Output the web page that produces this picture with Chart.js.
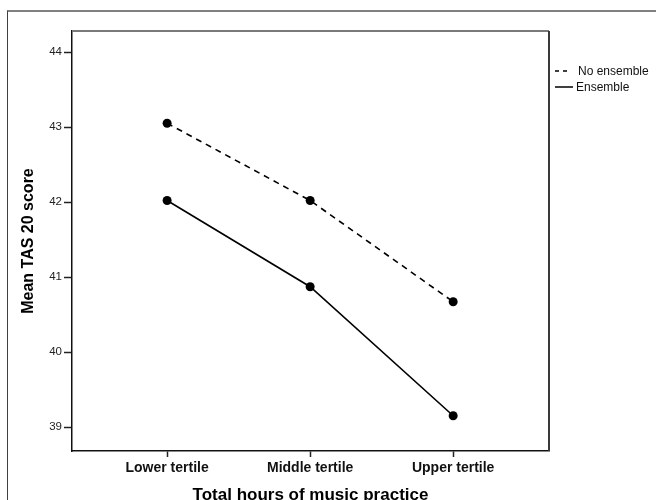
<!DOCTYPE html>
<html>
<head>
<meta charset="utf-8">
<script src="https://cdn.jsdelivr.net/npm/chart.js@4/dist/chart.umd.min.js"></script>
<style>
html, body { margin: 0; padding: 0; background: #fff; }
#wrap { position: relative; width: 656px; height: 500px; overflow: hidden; }
#frame { position: absolute; left: 7px; top: 10px; width: 700px; height: 600px;
	border-top: 2px solid #808080; border-left: 1px solid #404040; pointer-events: none; }
</style>
</head>
<body>
<div id="wrap">
	<canvas id="tas-chart" width="656" height="500"></canvas>
	<div id="frame"></div>
</div>
<script>
const categories = ['Lower tertile', 'Middle tertile', 'Upper tertile'];
const noEnsemble = [43.05, 42.02, 40.67];
const ensemble = [42.02, 40.87, 39.15];
const yTicks = [39, 40, 41, 42, 43, 44];

function toPoints(values) {
	return values.map((v, i) => ({ x: i, y: v }));
}

// box round the plot area, top and right edges
const plotBox = {
	id: 'plotBox',
	afterDraw(chart) {
		const { ctx, chartArea: a } = chart;
		ctx.save();
		ctx.lineWidth = 2;
		ctx.strokeStyle = '#7a7a7a';
		ctx.beginPath();
		ctx.moveTo(a.left, a.top);
		ctx.lineTo(a.right, a.top);
		ctx.stroke();
		ctx.strokeStyle = '#3a3a3a';
		ctx.beginPath();
		ctx.moveTo(a.right, a.top);
		ctx.lineTo(a.right, a.bottom);
		ctx.stroke();
		ctx.restore();
	}
};

// legend in the old SPSS style: line sample then label
const lineLegend = {
	id: 'lineLegend',
	afterDraw(chart) {
		const ctx = chart.ctx;
		const x = chart.chartArea.right + 6;
		ctx.save();
		ctx.font = '12px Arial, "Liberation Sans", sans-serif';
		ctx.fillStyle = '#111';
		ctx.textBaseline = 'middle';
		chart.data.datasets.forEach((ds, i) => {
			const y = 71 + i * 16;
			const dashed = !!ds.borderDash;
			ctx.strokeStyle = '#000';
			ctx.lineWidth = 1.5;
			ctx.setLineDash(dashed ? [4, 4] : []);
			ctx.beginPath();
			ctx.moveTo(x, y);
			ctx.lineTo(x + (dashed ? 12 : 18), y);
			ctx.stroke();
			ctx.setLineDash([]);
			ctx.fillText(ds.label, x + (dashed ? 23 : 21), y + 0.5);
		});
		ctx.restore();
	}
};

new Chart(document.getElementById('tas-chart'), {
	type: 'line',
	data: {
		datasets: [{
			label: 'No ensemble',
			data: toPoints(noEnsemble),
			borderColor: '#000',
			borderWidth: 1.6,
			borderDash: [6, 5],
			pointRadius: 4.5,
			pointBackgroundColor: '#000',
			pointBorderWidth: 0
		}, {
			label: 'Ensemble',
			data: toPoints(ensemble),
			borderColor: '#000',
			borderWidth: 1.6,
			pointRadius: 4.5,
			pointBackgroundColor: '#000',
			pointBorderWidth: 0
		}]
	},
	options: {
		responsive: false,
		animation: false,
		devicePixelRatio: 1,
		layout: { padding: { left: 0, top: 31, right: 107, bottom: 0 } },
		plugins: {
			legend: { display: false },
			tooltip: { enabled: false }
		},
		scales: {
			x: {
				type: 'linear',
				min: -0.665,
				max: 2.67,
				afterBuildTicks: s => { s.ticks = categories.map((c, i) => ({ value: i })); },
				afterFit: s => { s.height = 49; },
				ticks: {
					callback: v => categories[v],
					color: '#111',
					padding: 3,
					maxRotation: 0,
					font: { family: 'Arial, "Liberation Sans", sans-serif', size: 14, weight: 'bold' }
				},
				grid: { drawOnChartArea: false, tickLength: 6, tickColor: '#222', tickWidth: 1.5 },
				border: { display: true, color: '#111', width: 1.5 },
				title: {
					display: true,
					text: 'Total hours of music practice',
					color: '#000',
					padding: { top: 0, bottom: -4 },
					font: { family: 'Arial, "Liberation Sans", sans-serif', size: 17, weight: 'bold', lineHeight: 1 }
				}
			},
			y: {
				min: 38.68,
				max: 44.28,
				afterBuildTicks: s => { s.ticks = yTicks.map(v => ({ value: v })); },
				afterFit: s => { s.width = 72; },
				ticks: {
					color: '#222',
					padding: 2,
					font: { family: 'Arial, "Liberation Sans", sans-serif', size: 11.5 }
				},
				grid: { drawOnChartArea: false, tickLength: 8, tickColor: '#222', tickWidth: 1.5 },
				border: { display: true, color: '#111', width: 1.5 },
				title: {
					display: true,
					text: 'Mean TAS 20 score',
					color: '#000',
					padding: { top: 19, bottom: 0 },
					font: { family: 'Arial, "Liberation Sans", sans-serif', size: 16, weight: 'bold', lineHeight: 1.2 }
				}
			}
		}
	},
	plugins: [plotBox, lineLegend]
});
</script>
</body>
</html>
